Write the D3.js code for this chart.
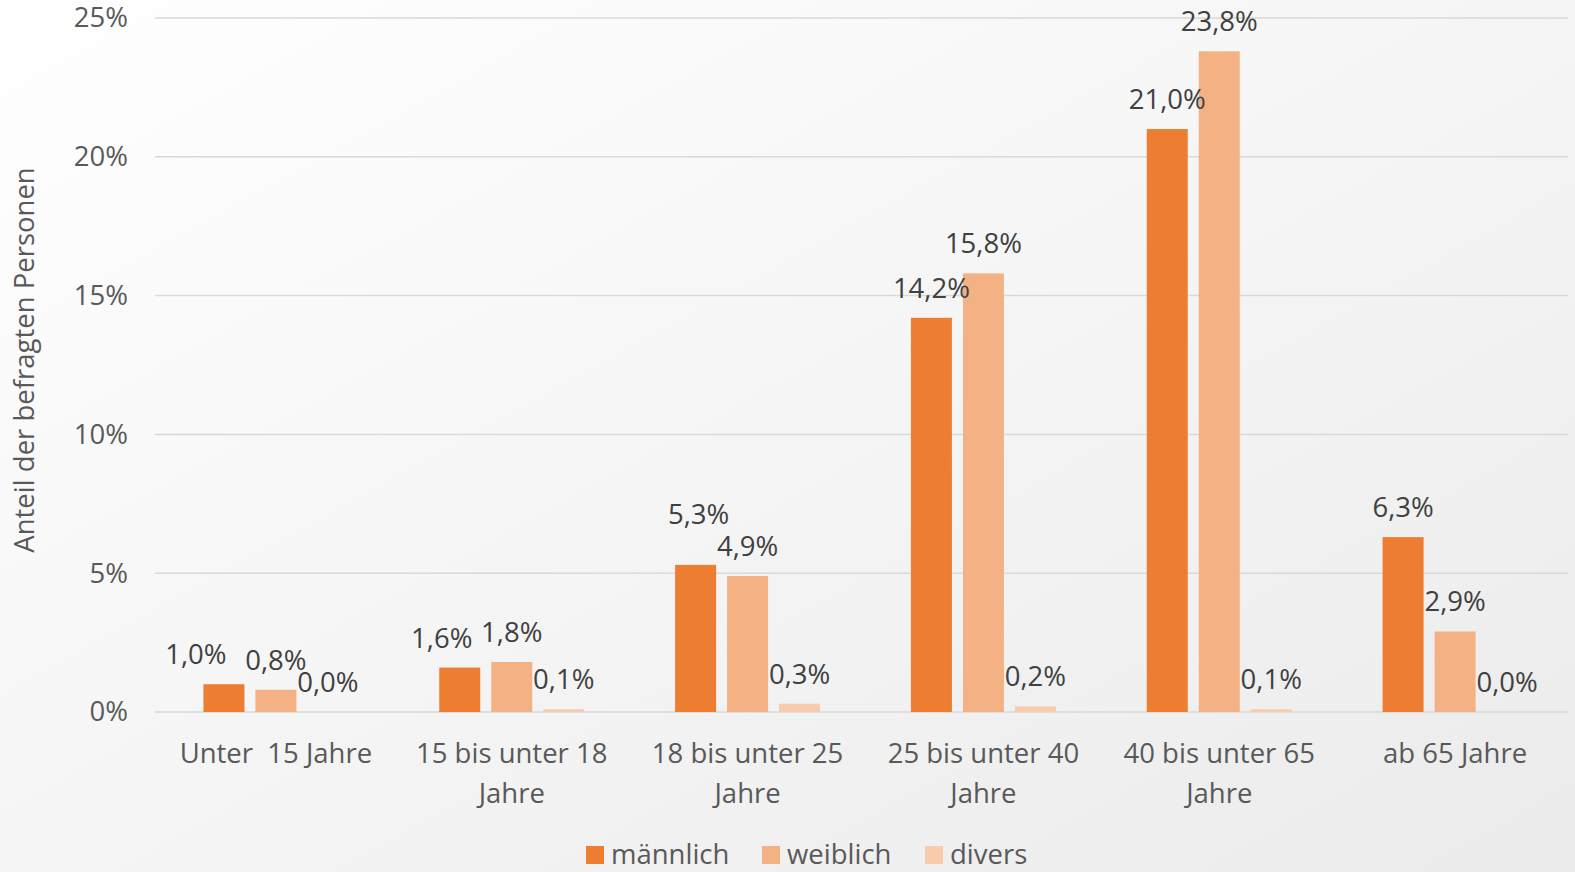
<!DOCTYPE html>
<html>
<head>
<meta charset="utf-8">
<script src="https://cdn.jsdelivr.net/npm/d3@7"></script>
<style>
  html, body { margin: 0; padding: 0; overflow: hidden; }
  text { font-family: "Open Sans", "Noto Sans", sans-serif; }
</style>
</head>
<body>
<div id="chart"></div>
<script>
// Altersgruppen und Anteile (in %)
const categories = [
  ["Unter  15 Jahre"],
  ["15 bis unter 18", "Jahre"],
  ["18 bis unter 25", "Jahre"],
  ["25 bis unter 40", "Jahre"],
  ["40 bis unter 65", "Jahre"],
  ["ab 65 Jahre"]
];
const seriesNames = ["männlich", "weiblich", "divers"];
const maennlich = [1.0, 1.6, 5.3, 14.2, 21.0, 6.3];
const weiblich = [0.8, 1.8, 4.9, 15.8, 23.8, 2.9];
const divers = [0.0, 0.1, 0.3, 0.2, 0.1, 0.0];
const yTicks = [0, 5, 10, 15, 20, 25];
const colors = ["#ED7D31", "#F4B183", "#F8CBAD"];

const values = [maennlich, weiblich, divers];
const width = 1575, height = 872;
const fs = 27.5;

// von Hand verschobene Datenbeschriftungen (Serie-Kategorie -> [dx, dy])
const labelNudge = { "0-0": [-28, 0], "0-1": [-18, 0], "0-2": [3, -21] };

const svg = d3.select("#chart")
  .append("svg")
  .attr("width", width)
  .attr("height", height);

// Hintergrund mit leichtem Verlauf
const grad = svg.append("defs").append("linearGradient")
  .attr("id", "bg")
  .attr("x1", "0%").attr("y1", "0%")
  .attr("x2", "100%").attr("y2", "100%");
grad.append("stop").attr("offset", "0%").attr("stop-color", "#ffffff");
grad.append("stop").attr("offset", "100%").attr("stop-color", "#ebebeb");
svg.append("rect").attr("width", width).attr("height", height).attr("fill", "url(#bg)");

// Skalen
const x = d3.scaleBand()
  .domain(d3.range(categories.length))
  .range([158, 1573]);

const xInner = d3.scaleBand()
  .domain(d3.range(seriesNames.length))
  .range([0, 145])
  .paddingInner(11 / 52);

const y = d3.scaleLinear()
  .domain([0, 25])
  .range([712, 18]);

// Gitterlinien
svg.append("g")
  .selectAll("line")
  .data(yTicks)
  .join("line")
  .attr("x1", 155)
  .attr("x2", 1568)
  .attr("y1", d => y(d))
  .attr("y2", d => y(d))
  .attr("stroke", "#d9d9d9")
  .attr("stroke-width", 1.5);

// Y-Achse
const yAxis = d3.axisLeft(y)
  .tickValues(yTicks)
  .tickSize(0)
  .tickPadding(0)
  .tickFormat(d => d + "%");

svg.append("g")
  .attr("transform", "translate(128,0)")
  .call(yAxis)
  .call(g => g.select(".domain").remove())
  .selectAll("text")
  .attr("font-size", fs)
  .attr("fill", "#595959")
  .attr("font-family", "Open Sans")
  .attr("dy", "0.32em");

// Achsentitel
svg.append("text")
  .attr("transform", "translate(34,360) rotate(-90)")
  .attr("text-anchor", "middle")
  .attr("font-size", fs)
  .attr("fill", "#595959")
  .text("Anteil der befragten Personen");

// Balken
const off = (x.bandwidth() - 145) / 2;
const barX = (s, c) => x(c) + off + xInner(s);

svg.append("g")
  .selectAll("g")
  .data(values)
  .join("g")
  .attr("fill", (d, i) => colors[i])
  .each(function(vals, s) {
    d3.select(this).selectAll("rect")
      .data(vals)
      .join("rect")
      .attr("x", (d, c) => barX(s, c))
      .attr("width", xInner.bandwidth())
      .attr("y", d => y(d))
      .attr("height", d => y(0) - y(d));
  });

// Datenbeschriftungen (über allen Balken)
svg.append("g")
  .selectAll("g")
  .data(values)
  .join("g")
  .each(function(vals, s) {
    const nudge = c => labelNudge[s + "-" + c] || [0, 0];
    d3.select(this).selectAll("text")
      .data(vals)
      .join("text")
      .attr("x", (d, c) => barX(s, c) + xInner.bandwidth() / 2 + nudge(c)[0])
      .attr("y", (d, c) => y(d) - 20 + nudge(c)[1])
      .attr("text-anchor", "middle")
      .attr("font-size", fs)
      .attr("fill", "#404040")
      .text(d => d.toFixed(1).replace(".", ",") + "%");
  });

// X-Achsenbeschriftung
const xl = svg.append("g")
  .selectAll("text")
  .data(categories)
  .join("text")
  .attr("x", (d, i) => x(i) + x.bandwidth() / 2)
  .attr("y", 763)
  .attr("text-anchor", "middle")
  .attr("font-size", fs)
  .attr("fill", "#595959")
  .style("white-space", "pre");

xl.selectAll("tspan")
  .data(d => d)
  .join("tspan")
  .attr("x", function() { return this.parentNode.getAttribute("x"); })
  .attr("dy", (d, i) => i === 0 ? 0 : 40)
  .text(d => d);

// Legende
const legendX = [586, 762, 925];
const legend = svg.append("g")
  .selectAll("g")
  .data(seriesNames)
  .join("g")
  .attr("transform", (d, i) => `translate(${legendX[i]},846)`);

legend.append("rect")
  .attr("width", 18)
  .attr("height", 18)
  .attr("fill", (d, i) => colors[i]);

legend.append("text")
  .attr("x", 25)
  .attr("y", 18)
  .attr("font-size", fs)
  .attr("fill", "#595959")
  .text(d => d);
</script>
</body>
</html>
